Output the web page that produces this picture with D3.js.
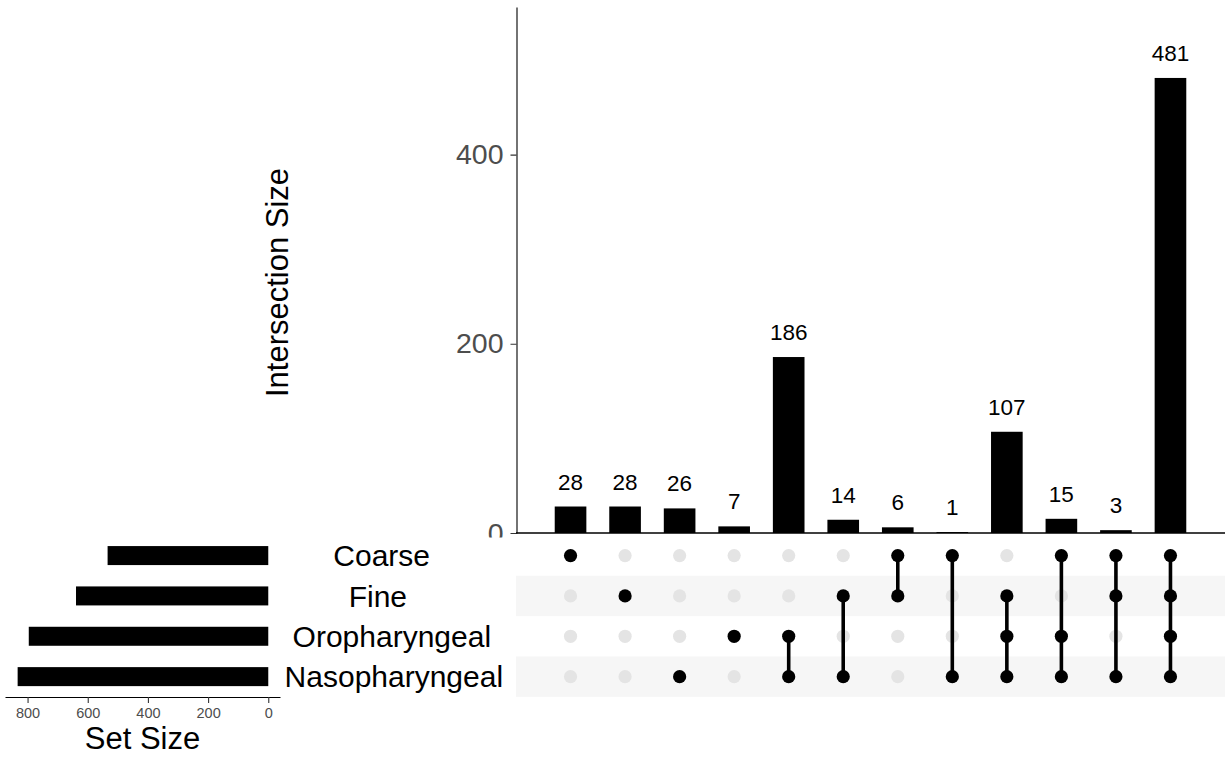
<!DOCTYPE html>
<html>
<head>
<meta charset="utf-8">
<script src="https://cdn.jsdelivr.net/npm/d3@7"></script>
<style>
  body { margin: 0; background: #fff; }
  svg { display: block; font-family: "Liberation Sans", Arial, sans-serif; }
</style>
</head>
<body>
<div id="main-container"></div>
<script>
// Data
const SETS = ['Coarse', 'Fine', 'Oropharyngeal', 'Nasopharyngeal'];
const SET_SIZES = [534, 639, 796, 833];
const INTERSECTION_SIZES = [28, 28, 26, 7, 186, 14, 6, 1, 107, 15, 3, 481];
const INTERSECTION_SETS = [
    ['Coarse'],
    ['Fine'],
    ['Nasopharyngeal'],
    ['Oropharyngeal'],
    ['Oropharyngeal', 'Nasopharyngeal'],
    ['Fine', 'Nasopharyngeal'],
    ['Coarse', 'Fine'],
    ['Coarse', 'Nasopharyngeal'],
    ['Fine', 'Oropharyngeal', 'Nasopharyngeal'],
    ['Coarse', 'Oropharyngeal', 'Nasopharyngeal'],
    ['Coarse', 'Fine', 'Nasopharyngeal'],
    ['Coarse', 'Fine', 'Oropharyngeal', 'Nasopharyngeal']
];
const Y_TICKS = [0, 200, 400];
const SET_TICKS = [0, 200, 400, 600, 800];

const SVG_WIDTH = 1225;
const SVG_HEIGHT = 759;
const COLUMNS = INTERSECTION_SIZES.map((d, i) => i);

const SVG = d3.select('#main-container').append('svg')
    .attr('width', SVG_WIDTH)
    .attr('height', SVG_HEIGHT);

// Scales
const X_SCALE = d3.scaleBand()
    .domain(COLUMNS)
    .range([516, 1225])
    .paddingInner(0.42)
    .paddingOuter(0.71);
const Y_SCALE = d3.scaleLinear().domain([0, 556]).range([533, 7]);
const ROW_SCALE = d3.scaleBand().domain(SETS).range([535.4, 696.8]);
const SET_SCALE = d3.scaleLinear().domain([-39, 875]).range([280, 5]);
const xc = i => X_SCALE(i) + X_SCALE.bandwidth() / 2;
const yc = s => ROW_SCALE(s) + ROW_SCALE.bandwidth() / 2;

// Matrix stripes
SVG.append('g').selectAll('rect')
    .data(SETS.filter((d, i) => i % 2 === 1)).enter()
    .append('rect')
    .attr('x', 516)
    .attr('y', d => ROW_SCALE(d))
    .attr('width', SVG_WIDTH - 516)
    .attr('height', ROW_SCALE.bandwidth())
    .attr('fill', '#f6f6f6');

// Intersection bars
SVG.append('g').selectAll('rect')
    .data(INTERSECTION_SIZES).enter()
    .append('rect')
    .attr('x', (d, i) => X_SCALE(i))
    .attr('y', d => Y_SCALE(d))
    .attr('width', X_SCALE.bandwidth())
    .attr('height', d => Y_SCALE(0) - Y_SCALE(d))
    .attr('fill', '#000');

SVG.append('g').selectAll('text')
    .data(INTERSECTION_SIZES).enter()
    .append('text')
    .attr('x', (d, i) => xc(i))
    .attr('y', d => Y_SCALE(d) - 17)
    .attr('text-anchor', 'middle')
    .style('font-size', '22.5px')
    .attr('fill', '#000')
    .text(d => d);

// Y axis (the "0" label is cut by the matrix panel)
SVG.append('clipPath').attr('id', 'yclip')
    .append('rect').attr('x', -520).attr('y', 0).attr('width', 540).attr('height', 537.5);
const Y_AXIS = d3.axisLeft(Y_SCALE)
    .tickValues(Y_TICKS)
    .tickSize(6)
    .tickSizeOuter(0)
    .tickPadding(7);
const yAxisG = SVG.append('g')
    .attr('transform', `translate(${516.5}, 0)`)
    .attr('clip-path', 'url(#yclip)')
    .call(Y_AXIS);
yAxisG.select('.domain').attr('stroke', '#000').attr('stroke-width', 1.1);
yAxisG.selectAll('.tick line').attr('stroke', '#333').attr('stroke-width', 1.1);
yAxisG.selectAll('.tick text')
    .attr('fill', '#4d4d4d')
    .style('font-size', '28.5px')
    .style('font-family', '"Liberation Sans", Arial, sans-serif');

// X baseline
SVG.append('line')
    .attr('x1', 516).attr('x2', SVG_WIDTH)
    .attr('y1', Y_SCALE(0)).attr('y2', Y_SCALE(0))
    .attr('stroke', '#000').attr('stroke-width', 1.3);

SVG.append('text')
    .attr('transform', `translate(${288}, ${282.5}) rotate(-90)`)
    .attr('text-anchor', 'middle')
    .style('font-size', '31px')
    .attr('fill', '#000')
    .text('Intersection Size');

// Matrix dots
const cells = [];
COLUMNS.forEach(i => SETS.forEach(s => cells.push({ col: i, set: s, on: INTERSECTION_SETS[i].includes(s) })));

SVG.append('g').selectAll('circle')
    .data(cells.filter(d => !d.on)).enter()
    .append('circle')
    .attr('cx', d => xc(d.col))
    .attr('cy', d => yc(d.set))
    .attr('r', 6.6)
    .attr('fill', '#e4e4e4');

SVG.append('g').selectAll('line')
    .data(COLUMNS.filter(i => INTERSECTION_SETS[i].length > 1)).enter()
    .append('line')
    .attr('x1', i => xc(i)).attr('x2', i => xc(i))
    .attr('y1', i => d3.min(INTERSECTION_SETS[i], yc))
    .attr('y2', i => d3.max(INTERSECTION_SETS[i], yc))
    .attr('stroke', '#000')
    .attr('stroke-width', 3.6);

SVG.append('g').selectAll('circle')
    .data(cells.filter(d => d.on)).enter()
    .append('circle')
    .attr('cx', d => xc(d.col))
    .attr('cy', d => yc(d.set))
    .attr('r', 6.6)
    .attr('fill', '#000');

// Set labels
SVG.append('g').selectAll('text')
    .data(SETS).enter()
    .append('text')
    .attr('y', d => yc(d))
    .attr('dy', '0.36em')
    .style('font-size', '30px')
    .attr('fill', '#000')
    .text(d => d)
    .each(function() {
        const w = this.getComputedTextLength();
        d3.select(this).attr('x', 372 - 0.4 * w);
    });

// Set size bars
SVG.append('g').selectAll('rect')
    .data(SET_SIZES).enter()
    .append('rect')
    .attr('x', d => SET_SCALE(d))
    .attr('y', (d, i) => yc(SETS[i]) - 9.5)
    .attr('width', d => SET_SCALE(0) - SET_SCALE(d))
    .attr('height', 19)
    .attr('fill', '#000');

const SET_AXIS = d3.axisBottom(SET_SCALE)
    .tickValues(SET_TICKS)
    .tickSize(6)
    .tickSizeOuter(0)
    .tickPadding(5);
const setAxisG = SVG.append('g')
    .attr('transform', `translate(0, ${697})`)
    .call(SET_AXIS);
setAxisG.select('.domain').attr('stroke', '#000').attr('stroke-width', 1.1);
setAxisG.selectAll('.tick line').attr('stroke', '#333').attr('stroke-width', 1.1);
setAxisG.selectAll('.tick text')
    .attr('fill', '#4d4d4d')
    .style('font-size', '14.5px')
    .style('font-family', '"Liberation Sans", Arial, sans-serif');

SVG.append('text')
    .attr('x', 142.5)
    .attr('y', 748.5)
    .attr('text-anchor', 'middle')
    .style('font-size', '31px')
    .attr('fill', '#000')
    .text('Set Size');
</script>
</body>
</html>
